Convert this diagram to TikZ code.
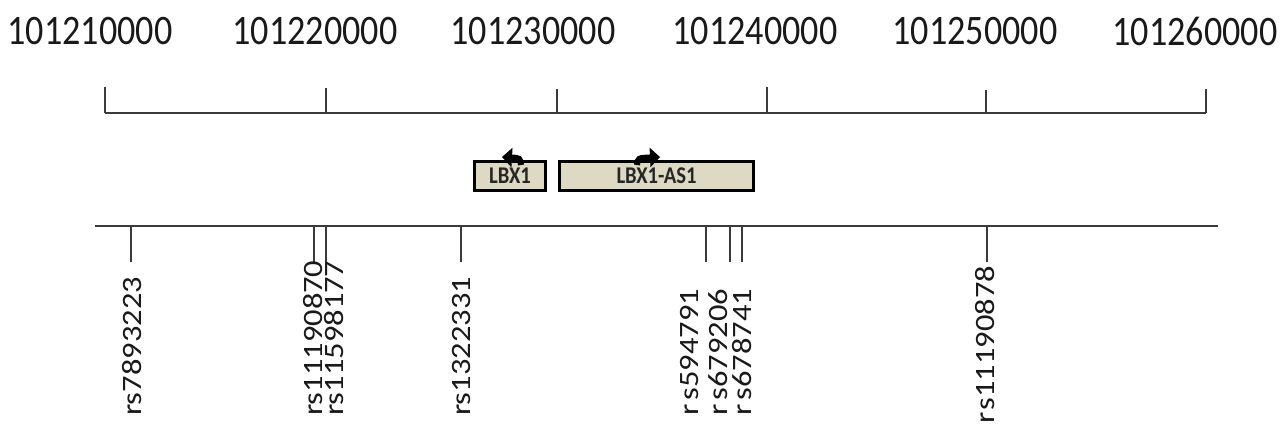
\documentclass[tikz,border=0pt]{standalone}
\usepackage{fontspec}
\setmainfont{Carlito}
\newfontfamily\numfont[FakeStretch=0.86]{Carlito}
\newfontfamily\snpfont[FakeStretch=1.16]{Carlito}
\usetikzlibrary{arrows.meta}
\definecolor{genefill}{HTML}{DDD9C3}
\definecolor{axisgray}{HTML}{3A3A3A}
\begin{document}
\begin{tikzpicture}[x=1pt,y=-1pt,
  axis/.style={draw=axisgray, line width=1.4pt},
  snptick/.style={draw=axisgray, line width=1.2pt},
  poslabel/.style={font=\numfont\fontsize{42}{42}\selectfont, inner sep=0pt, text=black!90},
  snplabel/.style={font=\snpfont\fontsize{28}{28}\selectfont, inner sep=0pt, rotate=90, anchor=west, text=black!90},
  gene/.style={draw=black, line width=3.5pt, fill=genefill, inner sep=0pt, minimum height=29pt,
    font=\numfont\bfseries\fontsize{24}{24}\selectfont, text=black!85},
  dirarrow/.style={line width=6pt, -{Triangle[length=10pt,width=19pt]}}]
\useasboundingbox (0,0) rectangle (1281,432);
% top axis
\coordinate (a0) at (105,113);
\coordinate (a6) at (1206,113);
\draw[axis] (a0) -- (a6);
\foreach \n/\x/\t in {0/105/87, 1/326/88, 2/557/89, 3/767/87, 4/986/90, 5/1206/89}{
  \coordinate (tb\n) at (\x,113);
  \coordinate (tt\n) at (\x,\t);
  \draw[axis] (tb\n) -- (tt\n);
}
\node[poslabel] (p0) at (90,31) {101210000};
\node[poslabel] (p1) at (315,31) {101220000};
\node[poslabel] (p2) at (533,31) {101230000};
\node[poslabel] (p3) at (755,31) {101240000};
\node[poslabel] (p4) at (975,31) {101250000};
\node[poslabel] (p5) at (1195,31) {101260000};
% genes
\node[gene, minimum width=71pt] (lbx1) at (510,176) {LBX1};
\node[gene, minimum width=194pt] (lbx1as) at (656.5,176) {LBX1-AS1};
\coordinate (l1s) at (521,165);
\coordinate (l1e) at (502,157);
\draw[dirarrow] (l1s) .. controls (520,158) .. (l1e);
\coordinate (r1s) at (637,165);
\coordinate (r1e) at (660,157);
\draw[dirarrow] (r1s) .. controls (638,158) .. (r1e);
% lower line
\coordinate (b0) at (95,226);
\coordinate (b1) at (1218,226);
\draw[axis] (b0) -- (b1);
\foreach \n/\x in {1/131, 2/314, 3/326, 4/461, 5/706, 6/730, 7/742, 8/987}{
  \coordinate (st\n) at (\x,226);
  \coordinate (sb\n) at (\x,262);
  \draw[snptick] (st\n) -- (sb\n);
}
\node[snplabel] (s1) at (132,416) {rs7893223};
\node[snplabel] (s2) at (313,416) {rs11190870};
\node[snplabel] (s3) at (334,416) {rs11598177};
\node[snplabel] (s4) at (462,416) {rs1322331};
\node[snplabel] (s5) at (690,416) {r\kern4pt s594791};
\node[snplabel] (s6) at (718,416) {r\kern4pt s679206};
\node[snplabel] (s7) at (742,416) {r\kern4pt s678741};
\node[snplabel] (s8) at (985,424) {r\kern2pt s11190878};
\end{tikzpicture}
\end{document}
